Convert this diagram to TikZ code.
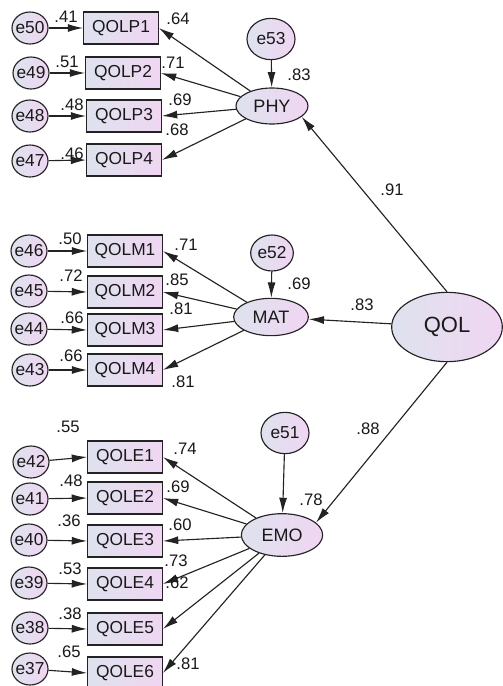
\documentclass[tikz,border=0pt]{standalone}
\usepackage{fontspec}
\setmainfont{Liberation Sans}
\usetikzlibrary{shapes.geometric,arrows.meta}
\definecolor{gA}{RGB}{222,226,238}
\definecolor{gB}{RGB}{240,214,242}
\definecolor{ln}{RGB}{35,35,35}
\definecolor{tx}{RGB}{25,25,25}
\tikzset{
  shd/.style={left color=gA, right color=gB, draw=ln, line width=0.85pt, text=tx, inner sep=0pt},
  obs/.style={shd, rectangle, minimum width=56pt, minimum height=24pt, font=\fontsize{13}{15}\selectfont},
  err/.style={shd, ellipse, inner xsep=-1.4pt, inner ysep=0pt, minimum width=27pt, minimum height=24pt, font=\fontsize{13}{15}\selectfont},
  errb/.style={shd, ellipse, font=\fontsize{13}{15}\selectfont},
  lat/.style={shd, ellipse, font=\fontsize{13.5}{15}\selectfont},
  num/.style={text=tx, inner sep=0pt, font=\fontsize{12.5}{14}\selectfont},
  arr/.style={draw=ln, line width=0.85pt, -{Latex[length=11.5pt,width=6pt]}}
}
\begin{document}
\begin{tikzpicture}[x=0.75pt,y=-0.75pt]
\useasboundingbox (0,0) rectangle (503,686);
\fill[white] (0,0) rectangle (503,686);
% latent variables
\node[lat, minimum width=54pt, minimum height=27pt] (PHY) at (272,106) {PHY};
\node[lat, minimum width=56pt, minimum height=28pt] (MAT) at (271,317) {MAT};
\node[lat, minimum width=61pt, minimum height=32pt] (EMO) at (282,535) {EMO};
\node[lat, minimum width=83pt, minimum height=52pt, font=\fontsize{16.5}{18}\selectfont] (QOL) at (447,327) {QOL};
\node[errb, minimum width=36pt, minimum height=31pt] (e53) at (271,39) {e53};
\node[errb, minimum width=32pt, minimum height=27pt] (e52) at (272,253) {e52};
\node[errb, minimum width=36pt, minimum height=31pt] (e51) at (285,433) {e51};
% PHY indicators
\node[obs] (P1) at (121,28) {QOLP1};
\node[obs] (P2) at (123,73) {QOLP2};
\node[obs] (P3) at (124,116) {QOLP3};
\node[obs] (P4) at (124,160) {QOLP4};
\node[err] (e50) at (30,28) {e50};
\node[err] (e49) at (31,73) {e49};
\node[err] (e48) at (30,116) {e48};
\node[err] (e47) at (30,161) {e47};
% MAT indicators
\node[obs] (M1) at (125,251) {QOLM1};
\node[obs] (M2) at (125,292) {QOLM2};
\node[obs] (M3) at (125,330) {QOLM3};
\node[obs] (M4) at (125,370) {QOLM4};
\node[err] (e46) at (29,251) {e46};
\node[err] (e45) at (29,291) {e45};
\node[err] (e44) at (29,329) {e44};
\node[err] (e43) at (30,370) {e43};
% EMO indicators
\node[obs] (E1) at (125,457) {QOLE1};
\node[obs] (E2) at (125,498) {QOLE2};
\node[obs] (E3) at (125,541) {QOLE3};
\node[obs] (E4) at (125,584) {QOLE4};
\node[obs] (E5) at (125,629) {QOLE5};
\node[obs] (E6) at (125,673) {QOLE6};
\node[err] (e42) at (31,462) {e42};
\node[err] (e41) at (30,499) {e41};
\node[err] (e40) at (29,540) {e40};
\node[err] (e39) at (29,583) {e39};
\node[err] (e38) at (30,628) {e38};
\node[err] (e37) at (30,669) {e37};
% error arrows
\foreach \e/\b in {e50/P1,e49/P2,e48/P3,e47/P4,e46/M1,e45/M2,e44/M3,e43/M4,e42/E1,e41/E2,e40/E3,e39/E4,e38/E5,e37/E6}
  \draw[arr] (\e) -- (\b.west);
% loadings
\foreach \b in {P1,P2,P3,P4} \draw[arr] (PHY) -- (\b.east);
\foreach \b in {M1,M2,M3,M4} \draw[arr] (MAT) -- (\b.east);
\foreach \b in {E1,E2,E3,E4,E5,E6} \draw[arr] (EMO) -- (\b.east);
% structural
\draw[arr] (QOL.north) -- (PHY.-20);
\draw[arr] (QOL) -- (MAT);
\draw[arr] (QOL.south) -- (EMO.20);
\draw[arr] (e53) -- (PHY);
\draw[arr] (e52) -- (MAT);
\draw[arr] (e51) -- (EMO);
% numbers
\node[num] (n41) at (66,17) {.41};
\node[num] (n51) at (67,62) {.51};
\node[num] (n48) at (72,105) {.48};
\node[num] (n46) at (72,154) {.46};
\node[num] (n64) at (178,19) {.64};
\node[num] (n71) at (173,63) {.71};
\node[num] (n69) at (180,100) {.69};
\node[num] (n68) at (177,130) {.68};
\node[num] (n83a) at (299,75) {.83};
\node[num] (n91) at (392,190) {.91};
\node[num] (n50) at (70,239) {.50};
\node[num] (n72) at (71,276) {.72};
\node[num] (n66a) at (72,318) {.66};
\node[num] (n66b) at (71,356) {.66};
\node[num] (n71b) at (186,245) {.71};
\node[num] (n85) at (177,280) {.85};
\node[num] (n81a) at (181,309) {.81};
\node[num] (n81b) at (183,382) {.81};
\node[num] (n69b) at (299,284) {.69};
\node[num] (n83b) at (362,305) {.83};
\node[num] (n55) at (68,427) {.55};
\node[num] (n48b) at (71,481) {.48};
\node[num] (n36) at (69,521) {.36};
\node[num] (n53) at (70,569) {.53};
\node[num] (n38) at (70,614) {.38};
\node[num] (n65) at (69,652) {.65};
\node[num] (n74) at (185,449) {.74};
\node[num] (n69c) at (178,487) {.69};
\node[num] (n60) at (180,525) {.60};
\node[num] (n73) at (176,561) {.73};
\node[num] (n62) at (177,583) {.62};
\node[num] (n81c) at (188,664) {.81};
\node[num] (n78) at (311,500) {.78};
\node[num] (n88) at (368,429) {.88};
\end{tikzpicture}
\end{document}
